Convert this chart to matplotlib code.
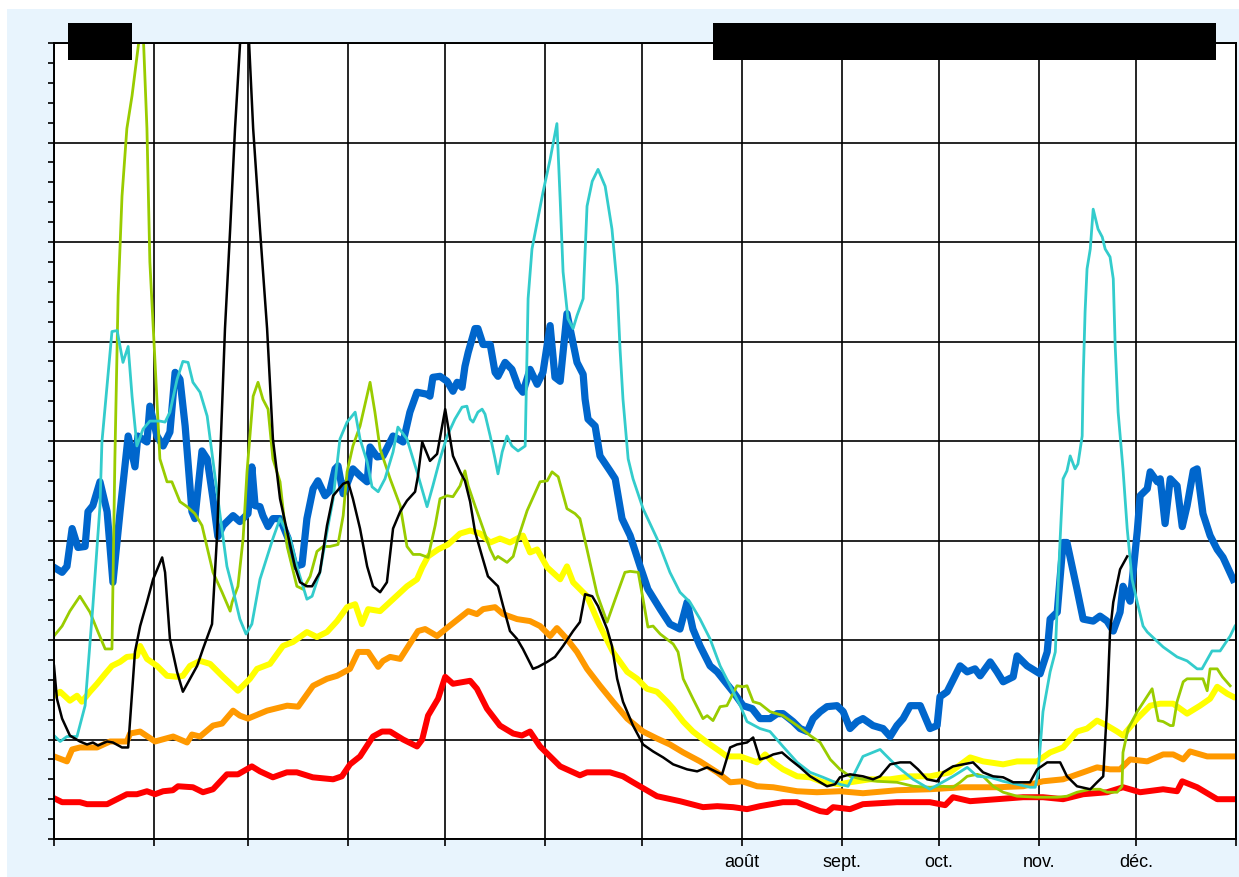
import numpy as np
import matplotlib
matplotlib.use("Agg")
import matplotlib.pyplot as plt
from matplotlib.patches import Rectangle
from matplotlib.ticker import MultipleLocator, FixedLocator

# =====================================================
# DATA  (x = day of year, y = value, 100 per grid line)
# =====================================================
RED_DAY = [0, 2.5, 8.0, 10.2, 16.4, 22.5, 25.6, 28.7, 31.2, 33.7, 36.7, 38.3, 42.9, 46.0, 49.1, 53.4, 56.8,
           61.1, 63.6, 67.6, 71.9, 75.0, 79.9, 86.2, 88.9, 91.4, 94.5, 98.5, 101.3, 103.8, 107.8, 112.1, 113.7,
           115.5, 118.6, 120.8, 123.2, 128.5, 130.6, 133.7, 137.7, 141.8, 144.5, 147.0, 150.1, 156.3, 162.4,
           164.6, 171.7, 175.7, 178.8, 186.2, 193.3, 200.4, 204.8, 209.7, 214.0, 218.0, 225.1, 229.4, 232.6,
           236.6, 238.7, 240.6, 245.8, 249.8, 260.3, 270.5, 275.2, 277.6, 282.9, 291.2, 299.3, 305.4, 311.6,
           317.8, 325.2, 330.1, 335.4, 342.5, 346.8, 348.4, 353.0, 359.2, 364.1]
RED_VAL = [41, 37, 37, 35, 35, 45, 45, 48, 45, 48, 49, 53, 52, 47, 50, 65, 65,
           73, 68, 62, 67, 67, 62, 60, 63, 75, 83, 103, 108, 108, 100, 93, 100,
           124, 141, 163, 156, 159, 151, 131, 114, 106, 104, 108, 93, 73, 64,
           67, 67, 63, 57, 43, 38, 32, 33, 32, 30, 33, 37, 37, 33,
           28, 27, 32, 30, 35, 37, 37, 34, 42, 38, 40, 42, 42, 40,
           45, 47, 52, 47, 50, 48, 58, 52, 40, 40]

ORANGE_DAY = [0, 4.0, 5.6, 8.0, 13.3, 17.3, 22.5, 23.5, 26.6, 31.2, 36.8, 41.1, 42.6, 45.1, 49.1, 51.9, 55.3,
              57.4, 59.9, 65.8, 72.0, 75.4, 80.0, 84.3, 87.4, 91.4, 93.9, 97.0, 100.1, 101.6, 103.8, 106.9,
              112.4, 114.6, 118.3, 121.7, 127.9, 130.6, 132.5, 136.2, 138.7, 143.0, 147.0, 150.1, 153.2, 155.3,
              158.4, 161.5, 164.6, 168.6, 172.6, 177.0, 181.9, 186.2, 190.2, 194.3, 199.5, 204.8, 208.8, 212.5,
              217.1, 222.1, 229.5, 235.6, 242.7, 249.8, 260.3, 270.5, 280.7, 291.2, 299.3, 305.4, 311.6, 317.8,
              322.1, 326.1, 329.2, 332.3, 337.6, 342.5, 345.6, 348.7, 350.8, 356.1, 360.1, 364.1]
ORANGE_VAL = [83, 78, 90, 92, 92, 98, 98, 106, 108, 98, 103, 97, 105, 103, 114, 116, 129,
              124, 121, 129, 134, 133, 154, 161, 164, 171, 188, 188, 173, 179, 183, 181,
              209, 211, 204, 213, 229, 226, 231, 233, 226, 221, 219, 214, 204, 212,
              201, 188, 171, 154, 138, 121, 108, 101, 95, 87, 78, 67, 57, 58,
              53, 52, 48, 47, 48, 46, 49, 50, 52, 52, 53, 58, 60, 67,
              72, 70, 70, 80, 78, 85, 85, 80, 88, 83, 83, 83]

YELLOW_DAY = [0, 1.9, 4.9, 7.1, 8.6, 11.1, 13.3, 15.8, 17.9, 20.4, 22.5, 25.6, 26.6, 28.7, 31.8, 34.9, 38.0,
              39.8, 42.0, 45.1, 48.2, 52.2, 56.8, 60.5, 62.7, 66.7, 70.7, 73.8, 78.1, 81.2, 84.3, 87.4, 90.5,
              93.0, 95.1, 97.0, 100.7, 104.7, 109.0, 112.1, 113.7, 115.5, 118.6, 121.7, 125.4, 128.5, 131.6,
              134.7, 137.7, 140.8, 144.8, 147.0, 149.2, 152.3, 156.3, 158.4, 160.3, 164.6, 168.6, 172.6, 177.0,
              180.1, 183.1, 186.2, 189.3, 191.2, 194.3, 197.3, 201.7, 205.7, 207.8, 211.9, 217.1, 219.6, 222.1,
              225.1, 229.5, 233.5, 237.5, 242.7, 245.8, 252.0, 258.2, 264.4, 270.5, 276.7, 282.9, 286.9, 293.1,
              297.4, 303.6, 307.6, 311.6, 315.9, 319.0, 322.1, 325.2, 328.3, 330.1, 334.5, 338.5, 341.6, 345.6,
              349.9, 353.9, 357.0, 359.2, 362.3, 364.1]
YELLOW_VAL = [144, 148, 139, 144, 138, 148, 156, 166, 174, 178, 183, 184, 194, 181, 174, 164, 163,
              164, 174, 179, 176, 163, 149, 161, 171, 176, 194, 198, 208, 203, 208, 219, 233,
              236, 216, 231, 229, 241, 254, 261, 273, 284, 291, 296, 307, 310, 307,
              298, 302, 298, 305, 288, 291, 273, 261, 274, 258, 244, 214, 188, 168,
              161, 151, 148, 138, 131, 118, 108, 97, 88, 83, 83, 77, 85, 77,
              70, 63, 62, 57, 55, 57, 60, 60, 63, 63, 67, 82, 78, 75,
              78, 78, 87, 92, 108, 111, 119, 114, 108, 104, 121, 134, 136, 136,
              126, 134, 141, 153, 146, 143]

BLUE_DAY = [0, 2.5, 4.0, 5.6, 7.4, 9.6, 10.5, 12.0, 14.2, 16.4, 18.2, 20.4, 22.9, 25.0, 25.9, 28.7, 29.6,
            31.8, 33.7, 35.8, 37.4, 38.9, 40.5, 42.6, 43.5, 45.7, 47.3, 49.1, 50.6, 52.2, 55.3, 57.4, 59.9,
            61.1, 62.1, 63.6, 64.5, 66.1, 67.6, 69.8, 72.3, 74.4, 76.6, 78.1, 80.0, 81.5, 83.7, 85.2, 86.8,
            87.7, 89.3, 92.3, 94.5, 96.7, 97.6, 99.8, 101.6, 104.7, 107.8, 109.9, 112.1, 115.2, 116.1, 117.0,
            119.2, 121.4, 123.2, 124.5, 126.0, 126.9, 127.9, 130.0, 130.9, 132.5, 134.7, 136.2, 137.1, 139.3,
            141.4, 143.3, 144.8, 147.0, 149.2, 151.0, 153.2, 154.7, 156.3, 158.4, 160.0, 161.5, 163.4, 164.0,
            164.9, 167.1, 168.6, 171.7, 173.3, 175.4, 177.9, 181.0, 183.4, 187.2, 190.2, 193.3, 195.5, 197.3,
            199.5, 202.6, 204.8, 209.7, 212.8, 215.6, 218.0, 221.1, 223.3, 225.1, 228.2, 230.4, 232.6, 234.4,
            236.6, 238.7, 241.8, 243.7, 245.8, 248.0, 249.8, 252.9, 256.0, 258.2, 260.3, 262.2, 264.4, 267.5,
            270.5, 272.7, 273.6, 275.8, 279.8, 282.0, 284.4, 286.0, 289.1, 291.2, 293.1, 296.2, 297.4, 300.5,
            304.5, 306.7, 307.6, 309.8, 311.6, 312.8, 315.9, 317.8, 320.9, 323.0, 325.2, 327.1, 329.2, 330.1,
            332.3, 334.5, 335.4, 337.6, 338.5, 340.7, 341.6, 343.1, 344.7, 346.8, 348.4, 349.9, 351.8, 353.0,
            354.8, 357.0, 359.2, 361.0, 364.1]
BLUE_VAL = [273, 268, 274, 312, 293, 294, 329, 335, 359, 329, 258, 329, 405, 374, 405, 399, 435,
            405, 395, 409, 469, 462, 415, 329, 322, 390, 382, 342, 304, 315, 325, 319, 327,
            374, 335, 334, 325, 314, 322, 322, 302, 274, 276, 322, 352, 360, 345, 350, 372,
            375, 347, 372, 365, 359, 394, 384, 385, 405, 399, 429, 449, 447, 445, 464,
            465, 460, 450, 459, 454, 475, 489, 513, 513, 497, 497, 469, 465, 479,
            472, 455, 449, 472, 457, 469, 516, 464, 460, 528, 503, 479, 467, 442,
            422, 415, 385, 370, 362, 322, 305, 274, 251, 231, 216, 211, 238, 211,
            194, 174, 168, 148, 134, 131, 121, 121, 126, 126, 118, 111, 108, 121,
            128, 133, 134, 128, 111, 118, 121, 114, 111, 103, 114, 121, 134, 134,
            111, 114, 143, 148, 174, 168, 171, 164, 178, 168, 158, 163, 184, 174,
            166, 188, 221, 228, 298, 298, 251, 221, 219, 224, 219, 209, 228, 254,
            239, 309, 345, 352, 369, 359, 362, 317, 362, 355, 314, 335, 370, 372,
            327, 305, 291, 283, 261]

TURQ_DAY = [0, 1.9, 4.0, 7.1, 9.6, 12.0, 14.2, 14.8, 17.9, 19.5, 21.3, 22.9, 24.1, 25.6, 27.5, 29.6, 32.7,
            34.3, 35.8, 38.0, 39.8, 41.4, 42.9, 45.1, 47.3, 51.3, 53.4, 55.0, 57.4, 59.3, 61.1, 63.6, 67.6,
            69.8, 72.9, 75.0, 78.1, 79.7, 82.1, 84.3, 86.2, 88.3, 90.5, 93.0, 94.5, 96.7, 98.2, 100.1, 102.2,
            104.7, 106.2, 109.0, 112.1, 115.2, 117.0, 119.2, 121.4, 123.8, 126.0, 127.5, 128.5, 129.4, 130.9,
            132.2, 133.1, 134.7, 136.2, 137.1, 138.4, 139.9, 141.4, 143.3, 145.5, 146.4, 147.6, 149.2, 151.0,
            153.2, 155.3, 156.3, 157.2, 158.7, 160.3, 161.5, 163.4, 164.6, 166.2, 168.0, 170.2, 172.3, 173.9,
            174.8, 175.7, 177.3, 178.8, 181.9, 186.2, 190.2, 193.3, 196.4, 199.5, 202.6, 205.7, 208.8, 211.9,
            214.0, 218.0, 221.1, 225.1, 229.5, 233.5, 237.5, 242.7, 245.2, 249.8, 255.1, 256.6, 260.3, 265.3,
            270.5, 277.6, 282.0, 285.1, 289.1, 293.1, 297.4, 301.4, 303.0, 303.9, 305.4, 307.6, 309.2, 310.7,
            311.6, 312.8, 313.8, 315.3, 316.2, 317.5, 317.8, 318.4, 319.0, 320.0, 320.9, 322.4, 323.7, 324.6,
            326.1, 327.1, 327.7, 328.6, 330.1, 331.4, 332.9, 334.5, 336.3, 337.6, 342.5, 346.8, 349.9, 353.0,
            354.5, 357.6, 360.1, 363.2, 364.7]
TURQ_VAL = [104, 98, 103, 103, 134, 234, 335, 399, 510, 511, 479, 495, 445, 395, 412, 420, 420,
            419, 429, 462, 480, 479, 459, 449, 425, 325, 274, 254, 221, 206, 216, 261, 302,
            322, 302, 274, 241, 244, 268, 309, 342, 402, 419, 429, 402, 379, 354, 349, 362,
            389, 414, 402, 369, 334, 355, 382, 405, 422, 434, 435, 422, 419, 429,
            432, 427, 405, 382, 367, 389, 405, 395, 390, 395, 543, 593, 620, 650,
            683, 719, 643, 570, 523, 513, 526, 543, 636, 661, 673, 656, 613, 556,
            492, 442, 382, 362, 332, 302, 268, 248, 238, 221, 201, 174, 154, 134,
            118, 111, 108, 93, 77, 67, 62, 55, 53, 83, 90, 85, 73, 60,
            50, 63, 72, 63, 62, 58, 55, 52, 52, 67, 128, 168, 188, 302,
            362, 370, 385, 372, 377, 405, 462, 530, 573, 593, 633, 613, 605, 593,
            585, 563, 495, 429, 372, 312, 261, 238, 214, 208, 193, 183, 179, 171,
            171, 189, 189, 204, 214]

GREEN_DAY = [0, 2.5, 4.9, 8.0, 11.1, 13.6, 15.8, 17.9, 18.8, 19.8, 21.0, 22.5, 24.1, 27.3, 28.7, 29.6, 31.2,
             32.7, 34.9, 36.4, 38.9, 41.1, 43.5, 45.7, 49.1, 51.9, 54.4, 55.0, 56.8, 58.4, 59.6, 61.5, 63.0,
             64.5, 66.1, 67.6, 69.8, 72.0, 75.0, 76.9, 79.1, 81.2, 83.1, 85.2, 87.7, 89.3, 90.5, 92.3, 94.5,
             97.6, 99.1, 100.7, 103.8, 106.9, 109.0, 110.9, 113.0, 115.5, 117.7, 119.2, 121.4, 123.2, 125.4,
             126.9, 127.9, 130.0, 132.5, 134.7, 136.2, 137.1, 139.9, 141.8, 143.3, 146.1, 150.1, 152.3, 153.8,
             155.7, 158.4, 160.9, 162.4, 164.6, 167.7, 170.8, 173.3, 176.3, 177.9, 180.4, 181.9, 183.4, 185.0,
             187.2, 191.2, 192.7, 194.3, 197.3, 200.4, 201.7, 203.5, 205.7, 207.8, 210.9, 212.8, 214.0, 215.9,
             218.0, 221.1, 225.1, 229.5, 233.5, 236.6, 239.7, 242.7, 245.8, 249.8, 254.2, 260.3, 265.3, 270.5,
             274.6, 277.6, 279.8, 282.0, 285.1, 286.9, 290.0, 293.1, 297.4, 303.6, 309.8, 312.8, 315.9, 320.0,
             323.0, 325.2, 328.3, 329.8, 330.1, 331.7, 334.5, 338.5, 339.1, 341.0, 342.5, 344.7, 345.6, 346.8,
             348.7, 349.9, 354.8, 356.1, 357.0, 359.2, 360.8, 363.2]
GREEN_VAL = [204, 214, 229, 244, 228, 208, 191, 191, 382, 546, 646, 714, 747, 830, 714, 580, 479,
             382, 359, 359, 339, 334, 327, 315, 268, 248, 229, 238, 254, 302, 369, 445, 459,
             442, 432, 382, 359, 294, 254, 251, 264, 289, 294, 294, 296, 325, 369, 395, 415,
             459, 429, 392, 362, 335, 294, 286, 286, 283, 315, 342, 345, 344, 355,
             370, 355, 335, 312, 291, 281, 284, 278, 284, 302, 330, 359, 360, 369,
             364, 332, 327, 322, 291, 246, 218, 241, 268, 269, 268, 241, 213, 214,
             206, 196, 188, 161, 141, 121, 124, 119, 133, 134, 154, 153, 154, 138,
             136, 128, 124, 114, 104, 97, 80, 70, 63, 60, 58, 57, 53, 52,
             53, 52, 57, 63, 65, 63, 53, 47, 43, 42, 42, 43, 47, 50,
             50, 47, 47, 53, 87, 111, 128, 148, 151, 119, 118, 114, 114, 138,
             158, 161, 161, 149, 171, 171, 163, 154]

BLACK_DAY = [0, 0.9, 2.5, 4.9, 8.0, 10.2, 12.0, 13.6, 16.4, 18.2, 21.0, 22.9, 25.0, 26.6, 28.7, 30.6, 33.4,
             34.3, 35.8, 38.0, 39.8, 42.0, 44.2, 46.0, 48.8, 50.3, 51.3, 52.8, 54.4, 55.9, 59.0, 61.5, 63.6,
             65.8, 67.6, 69.8, 72.0, 74.4, 76.0, 78.1, 79.7, 82.1, 84.3, 86.2, 89.3, 90.8, 92.3, 94.5, 96.7,
             98.5, 100.7, 102.8, 104.7, 106.9, 109.0, 111.5, 112.4, 113.7, 116.1, 118.3, 120.8, 123.2, 125.4,
             126.9, 128.5, 130.0, 132.2, 134.0, 137.1, 138.7, 140.8, 143.0, 144.8, 147.9, 149.5, 152.3, 154.7,
             157.2, 160.3, 162.4, 164.0, 166.2, 168.0, 170.8, 172.3, 173.9, 175.7, 178.8, 181.9, 185.0, 188.1,
             191.2, 195.5, 198.6, 201.7, 204.8, 206.3, 208.8, 210.9, 214.0, 215.9, 218.0, 220.2, 222.1, 224.8,
             227.3, 230.4, 233.5, 236.6, 238.7, 241.2, 242.7, 245.8, 249.8, 252.9, 255.1, 258.2, 261.3, 264.4,
             266.8, 269.6, 272.7, 274.6, 277.6, 280.7, 283.8, 286.9, 290.0, 293.1, 296.2, 301.4, 303.6, 306.7,
             310.7, 312.8, 315.9, 320.0, 322.1, 324.0, 325.2, 326.1, 327.1, 329.2, 331.4]
BLACK_VAL = [174, 141, 121, 104, 98, 95, 97, 94, 98, 97, 92, 92, 188, 214, 238, 261, 283,
             268, 201, 168, 148, 161, 174, 191, 216, 302, 382, 513, 613, 714, 885, 714, 613,
             513, 402, 342, 309, 274, 258, 254, 254, 268, 315, 345, 357, 359, 342, 312, 274,
             254, 248, 258, 312, 329, 340, 349, 365, 399, 380, 387, 432, 385, 369,
             360, 339, 309, 284, 264, 254, 234, 209, 201, 191, 171, 173, 178, 183,
             194, 209, 218, 246, 244, 234, 211, 194, 161, 138, 114, 95, 88, 82,
             75, 70, 68, 72, 67, 65, 92, 95, 97, 102, 80, 82, 85, 87,
             80, 72, 63, 57, 53, 55, 62, 65, 63, 60, 63, 75, 77, 77,
             70, 60, 58, 67, 73, 75, 77, 67, 63, 62, 57, 57, 70, 77,
             77, 63, 53, 50, 57, 63, 134, 208, 238, 271, 284]

MONTH_LABELS = ["", "", "", "", "", "", "", "août", "sept.", "oct.", "nov.", "déc.", ""]
MONTH_DAYS = [31, 29, 31, 30, 31, 30, 31, 31, 30, 31, 30, 31]

# =====================================================
# FIGURE
# =====================================================
W, H = 1239, 878
fig = plt.figure(figsize=(W / 100, H / 100), dpi=100, facecolor="white")
fig.patches.append(Rectangle((7 / W, 0), 1 - 7 / W, 1 - 10 / H, transform=fig.transFigure,
                             facecolor="#E8F4FD", edgecolor="none", zorder=-10))

ax = fig.add_axes([54 / W, 38 / H, 1182 / W, 796 / H])
ax.set_zorder(1)
ax.set_facecolor("white")

# series: thick lines first, thin ones on top
ax.plot(RED_DAY, RED_VAL, color="#FF0000", lw=4.3, solid_joinstyle="round", zorder=3)
ax.plot(ORANGE_DAY, ORANGE_VAL, color="#FF9900", lw=4.3, solid_joinstyle="round", zorder=3)
ax.plot(YELLOW_DAY, YELLOW_VAL, color="#FFFF00", lw=4.3, solid_joinstyle="round", zorder=3)
ax.plot(BLUE_DAY, BLUE_VAL, color="#0066CC", lw=5.2, solid_joinstyle="round", zorder=4)
ax.plot(GREEN_DAY, GREEN_VAL, color="#99CC00", lw=2.0, zorder=5)
ax.plot(TURQ_DAY, TURQ_VAL, color="#33CCCC", lw=2.0, zorder=5)
ax.plot(BLACK_DAY, BLACK_VAL, color="black", lw=1.8, zorder=6)

# axes: leap year drawn on a 365 unit scale
month_start = np.concatenate([[0], np.cumsum(MONTH_DAYS)]) * 365 / 366
ax.set_xlim(0, 365)
ax.set_ylim(0, 800)
ax.xaxis.set_major_locator(FixedLocator(month_start))
ax.set_xticklabels(MONTH_LABELS, fontsize=13, family="Liberation Sans")
ax.yaxis.set_major_locator(MultipleLocator(100))
ax.yaxis.set_minor_locator(MultipleLocator(20))
ax.set_yticklabels([])
ax.tick_params(axis="x", direction="out", length=5, width=1.2, pad=5, colors="black")
ax.tick_params(axis="y", which="both", direction="out", length=4.5, width=1.2)
ax.grid(True, which="major", color="black", lw=1.2, zorder=1)
ax.set_axisbelow(True)
for s in ax.spines.values():
    s.set_linewidth(1.4)
    s.set_color("black")
    s.set_zorder(7)

# redacted header boxes
fig.patches.append(Rectangle((68 / W, 1 - 61 / H), 64 / W, 37 / H, transform=fig.transFigure,
                             facecolor="black", edgecolor="none", zorder=10))
fig.patches.append(Rectangle((713 / W, 1 - 61 / H), 503 / W, 37 / H, transform=fig.transFigure,
                             facecolor="black", edgecolor="none", zorder=10))

fig.savefig("out.png", dpi=100, facecolor=fig.get_facecolor())
